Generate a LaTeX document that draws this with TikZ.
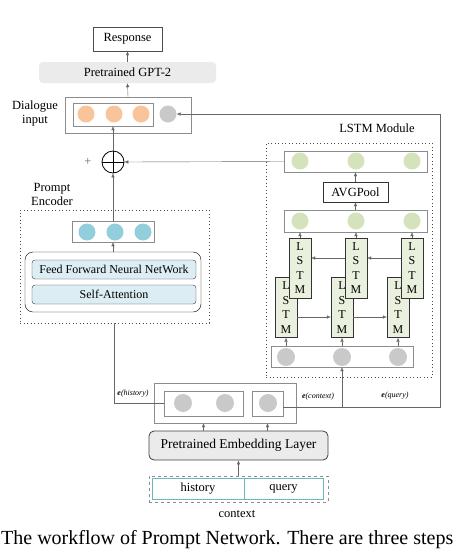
\documentclass[tikz,border=0pt]{standalone}
\usepackage{fontspec}
\setmainfont{Liberation Serif}
\usetikzlibrary{arrows.meta}
\definecolor{peach}{HTML}{F9C49A}
\definecolor{dotgray}{HTML}{C9C9C9}
\definecolor{leaf}{HTML}{D4E3BC}
\definecolor{lstmgreen}{HTML}{E9F1DE}
\definecolor{sky}{HTML}{92CEDB}
\definecolor{ffnblue}{HTML}{DCEEF3}
\definecolor{teal}{HTML}{6BB8BC}
\begin{document}
\begin{tikzpicture}[x=1pt,y=-1pt,
  every node/.style={font=\fontsize{12.5}{14}\selectfont, inner sep=1pt},
  arr/.style={draw=black!60, -{Latex[length=4pt,width=3.5pt]}},
  vec/.style={draw=black!45, minimum width=#1, minimum height=21},
  ball/.style={circle, minimum size=17, fill=#1},
  dotbox/.style={draw=black!70, line width=0.9pt, dash pattern=on 0.9pt off 2.6pt},
  lstm/.style={draw=black!80, fill=lstmgreen, minimum width=22, minimum height=60,
    align=center, inner sep=0pt, font=\fontsize{12}{14.5}\selectfont},
  blk/.style={draw=black!80, fill=ffnblue, rounded corners=3pt, minimum width=164, minimum height=19,
    font=\fontsize{12}{14}\selectfont},
  elab/.style={font=\fontsize{8}{9}\selectfont\itshape}]
  \clip (0,0) rectangle (474,550);
  % output side
  \node[draw=black!70, minimum width=69, minimum height=24] (resp) at (127.5,39) {Response};
  \node[fill=black!8, rounded corners=4pt, minimum width=177, minimum height=21] (gpt) at (127.5,72.5) {Pretrained GPT-2};
  \node[vec=126, minimum height=36] (dlg) at (128,115) {};
  \node[vec=80, minimum height=23] (dlgin) at (113,114.5) {};
  \foreach \x [count=\i] in {86,114,141} \node[ball=peach] (o\i) at (\x,114) {};
  \node[ball=dotgray] (dq) at (168,114) {};
  \node[align=center] (dlglab) at (35,113) {Dialogue\\input};
  \node[circle, draw, thick, minimum size=22] (plus) at (113,162) {};
  \draw (plus.north) -- (plus.south) (plus.west) -- (plus.east);
  \node[text=black!60] (plustxt) at (88,162) {+};
  \draw[arr] (gpt.north) -- (resp.south);
  \draw[arr] (dlg.north) -- (gpt.south);
  \draw[arr] (plus.north) -- (dlgin.south);
  % prompt encoder
  \node[align=center] (pelab) at (52,194) {Prompt\\Encoder};
  \node[dotbox, minimum width=189, minimum height=113] (pe) at (114.5,266.5) {};
  \node[vec=82] (pv) at (113,231.5) {};
  \foreach \x [count=\i] in {87,115,143} \node[ball=sky] (b\i) at (\x,232) {};
  \node[draw, rounded corners=8pt, minimum width=176, minimum height=60] (enc) at (113,282) {};
  \node[blk] (ffn) at (114,269.5) {Feed Forward Neural NetWork};
  \node[blk] (sa) at (114,294.5) {Self-Attention};
  \draw[arr] (enc.north) -- (pv.south);
  \draw[arr] (pv.north) -- (plus.south);
  % lstm module
  \node (lstmlab) at (377,128) {LSTM Module};
  \node[dotbox, minimum width=166, minimum height=234] (lm) at (349,260) {};
  \node[vec=143] (g) at (355.5,161.5) {};
  \node[draw=black!80, minimum width=65, minimum height=20] (avg) at (355.5,192) {AVGPool};
  \node[vec=143, minimum height=22] (m) at (355.5,221) {};
  \node[vec=142] (bg) at (342,356.5) {};
  \foreach \i in {1,2,3} {
    \node[ball=leaf] (gt\i) at (244+56*\i,161) {};
    \node[ball=leaf] (gm\i) at (244+56*\i,221) {};
    \node[ball=dotgray, minimum size=18] (e\i) at (230+56*\i,357) {};
    \node[lstm] (l\i) at (230+56*\i,307.5) {L\\S\\T\\M};
    \node[lstm] (u\i) at (244+56*\i,268) {L\\S\\T\\M};
    \draw[arr] (u\i.north) -- (m.south -| u\i);
    \draw[arr] (bg.north -| l\i) -- (l\i.south);
  }
  \foreach \i/\j in {1/2,2/3} {
    \draw[arr] ([yshift=-9.5pt]l\i.east) -- ([yshift=-9.5pt]l\j.west);
    \draw[arr] ([yshift=10pt]u\j.west) -- ([yshift=10pt]u\i.east);
  }
  \draw[arr] (m.north) -- (avg.south);
  \draw[arr] (avg.north) -- (g.south);
  \draw[arr] (g.west) -- (plus.east);
  % embeddings
  \node[vec=142, minimum height=40] (emb) at (225,403) {};
  \node[vec=79, minimum height=25] (eh) at (203.5,403.5) {};
  \node[vec=31, minimum height=25] (eq) at (267.5,403.5) {};
  \node[ball=dotgray, minimum size=18] (h1) at (183,403) {};
  \node[ball=dotgray, minimum size=18] (h2) at (225,403) {};
  \node[ball=dotgray, minimum size=18] (q1) at (268,403) {};
  \node[draw=black!75, thick, fill=black!8, rounded corners=5pt, minimum width=179, minimum height=29,
    font=\fontsize{13.5}{15}\selectfont] (pel) at (238.5,445.5) {Pretrained Embedding Layer};
  \node[draw=black!45, thick, dashed, minimum width=179, minimum height=26] (ctx) at (238.5,489) {};
  \node[draw=teal, thick, minimum width=92, minimum height=21] (hist) at (198,488.5) {history};
  \node[draw=teal, thick, minimum width=79, minimum height=21] (qry) at (283.5,488.5) {query};
  \node (ctxlab) at (237,514) {context};
  \draw[arr] (ctx.north) -- (pel.south);
  \draw[arr] (pel.north -| eh) -- (emb.south -| eh);
  \draw[arr] (pel.north -| eq) -- (emb.south -| eq);
  \coordinate (qturn) at (440,407);
  \draw[arr] ([yshift=-3.5pt]eq.east) -| (bg.south);
  \draw[arr] ([yshift=-3.5pt]eq.east) -- (qturn) |- (dq.east);
  \draw[draw=black!60] (eh.west) -| (pe.south);
  \node[elab] (ehl) at (133,394) {\textbf{e}(history)};
  \node[elab] (ecl) at (318,397) {\textbf{e}(context)};
  \node[elab] (eql) at (395,396) {\textbf{e}(query)};
  % caption line
  \node[anchor=base west, font=\fontsize{20}{24}\selectfont] (cap) at (0,544) {The workflow of Prompt Network. There are three steps};
\end{tikzpicture}
\end{document}
